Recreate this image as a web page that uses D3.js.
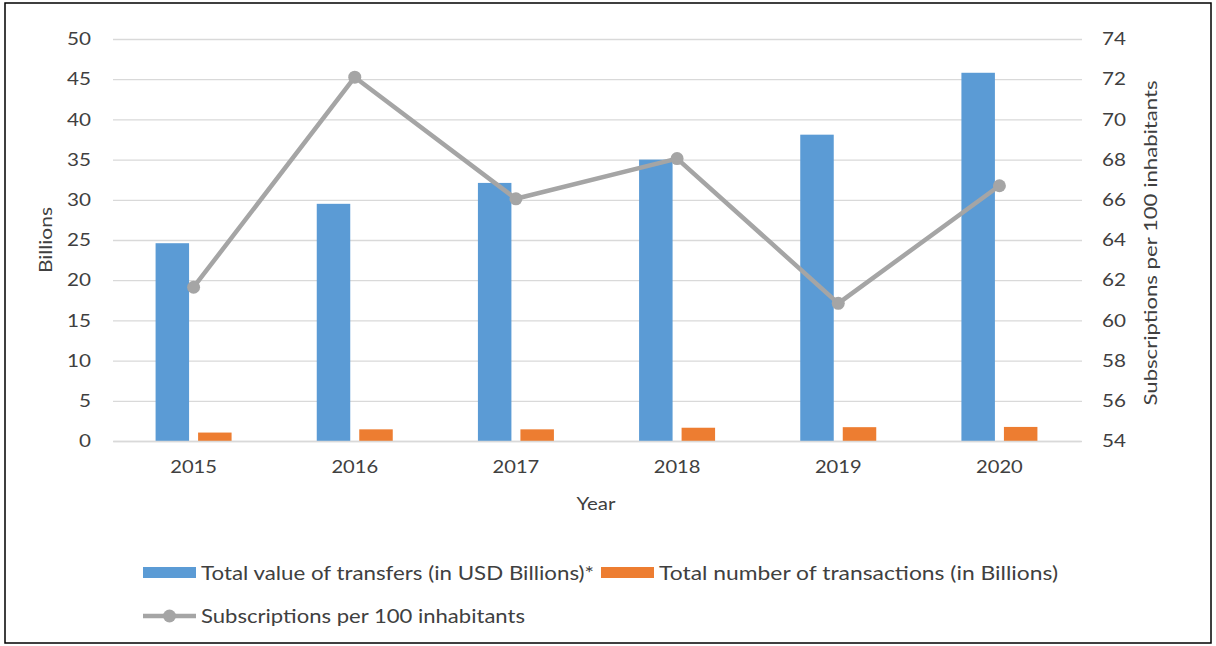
<!DOCTYPE html>
<html>
<head>
<meta charset="utf-8">
<script src="https://cdn.jsdelivr.net/npm/d3@7"></script>
<style>
  html, body { margin: 0; padding: 0; background: #fff; }
  svg { display: block; font-family: Lato, "Open Sans", sans-serif; }
</style>
</head>
<body>
<svg id="chart" width="1216" height="646"></svg>
<script>
const years = ["2015", "2016", "2017", "2018", "2019", "2020"];
const transferValues = [24.6, 29.5, 32.1, 35.0, 38.1, 45.8];
const transactionCounts = [1.05, 1.45, 1.45, 1.65, 1.72, 1.75];
const subscriptions = [61.65, 72.1, 66.05, 68.05, 60.85, 66.7];
const leftTicks = [0, 5, 10, 15, 20, 25, 30, 35, 40, 45, 50];
const rightTicks = [54, 56, 58, 60, 62, 64, 66, 68, 70, 72, 74];
const seriesNames = ["Total value of transfers (in USD Billions)*", "Total number of transactions (in Billions)", "Subscriptions per 100 inhabitants"];
const colors = ["#5b9bd5", "#ed7d31", "#a5a5a5"];

const svg = d3.select("#chart");
const textColor = "#404040";

// stretch text horizontally to mimic the reference's wide glyphs
function stretch(sel, factor) {
  sel.each(function () {
    const w = this.getComputedTextLength();
    d3.select(this).attr("textLength", w * factor).attr("lengthAdjust", "spacingAndGlyphs");
  });
}
function fitTo(sel, width) {
  sel.attr("textLength", width).attr("lengthAdjust", "spacingAndGlyphs");
}

// outer border
svg.append("rect").attr("x", 5).attr("y", 3).attr("width", 1206).attr("height", 640)
  .attr("fill", "none").attr("stroke", "#000").attr("stroke-width", 1.5);

const x = d3.scaleBand().domain(years).range([113, 1080]).padding(0);
const bw = x.bandwidth();
const inner = d3.scaleBand().domain([0, 1]).range([bw / 2 - 38, bw / 2 + 38]).paddingInner(0.212);
const yL = d3.scaleLinear().domain([0, 50]).range([441, 39]);
const yR = d3.scaleLinear().domain([54, 74]).range([441, 39]);

// gridlines
const gridAxis = d3.axisLeft(yL).tickValues(leftTicks).tickSize(-(1082 - 113)).tickFormat("");
const g = svg.append("g").attr("transform", "translate(113,0)").call(gridAxis);
g.select(".domain").remove();
g.selectAll("line").attr("stroke", "#d9d9d9").attr("stroke-width", 1.3);

// left axis labels
const la = svg.append("g").attr("transform", "translate(91,0)")
  .call(d3.axisLeft(yL).tickValues(leftTicks).tickSize(0).tickPadding(0));
la.select(".domain").remove();
la.selectAll("text").attr("fill", textColor).style("font-size", "17.5px").style("font-family", "Lato, sans-serif");
stretch(la.selectAll("text"), 1.18);

// right axis labels
const ra = svg.append("g").attr("transform", "translate(1102,0)")
  .call(d3.axisRight(yR).tickValues(rightTicks).tickSize(0).tickPadding(0));
ra.select(".domain").remove();
ra.selectAll("text").attr("fill", textColor).style("font-size", "17.5px").style("font-family", "Lato, sans-serif");
stretch(ra.selectAll("text"), 1.18);

// bars
const groups = svg.append("g").selectAll("g").data(years).join("g")
  .attr("transform", d => `translate(${x(d)},0)`);
groups.append("rect")
  .attr("x", inner(0)).attr("width", inner.bandwidth())
  .attr("y", (d, i) => yL(transferValues[i])).attr("height", (d, i) => yL(0) - yL(transferValues[i]))
  .attr("fill", colors[0]);
groups.append("rect")
  .attr("x", inner(1)).attr("width", inner.bandwidth())
  .attr("y", (d, i) => yL(transactionCounts[i])).attr("height", (d, i) => yL(0) - yL(transactionCounts[i]))
  .attr("fill", colors[1]);

// x axis
const xa = svg.append("g").attr("transform", "translate(0,441)")
  .call(d3.axisBottom(x).tickSize(0).tickPadding(20));
xa.select(".domain").attr("stroke", "#d9d9d9").attr("stroke-width", 1.3);
xa.selectAll("text").attr("fill", textColor).style("font-size", "17.5px").style("font-family", "Lato, sans-serif");
stretch(xa.selectAll("text"), 1.15);

// line
const cx = (d) => x(d) + bw / 2;
const line = d3.line().x((d, i) => cx(years[i])).y(d => yR(d));
svg.append("path").datum(subscriptions).attr("d", line)
  .attr("fill", "none").attr("stroke", colors[2]).attr("stroke-width", 4.5).attr("stroke-linejoin", "round");
svg.append("g").selectAll("circle").data(subscriptions).join("circle")
  .attr("cx", (d, i) => cx(years[i])).attr("cy", d => yR(d)).attr("r", 6.5).attr("fill", colors[2]);

// axis titles
svg.append("text").attr("x", 596).attr("y", 510).attr("text-anchor", "middle")
  .attr("fill", textColor).style("font-size", "18px").text("Year").call(fitTo, 39);
svg.append("text").attr("transform", "translate(52,240) rotate(-90)").attr("text-anchor", "middle")
  .attr("fill", textColor).style("font-size", "18px").text("Billions").call(fitTo, 66);
svg.append("text").attr("transform", "translate(1157,243) rotate(-90)").attr("text-anchor", "middle")
  .attr("fill", textColor).style("font-size", "18px").text("Subscriptions per 100 inhabitants").call(fitTo, 325);

// legend
const leg = svg.append("g");
leg.append("rect").attr("x", 143).attr("y", 567).attr("width", 53).attr("height", 11).attr("fill", colors[0]);
leg.append("text").attr("x", 201).attr("y", 580).attr("fill", textColor).style("font-size", "19px")
  .text(seriesNames[0]).call(fitTo, 393);
leg.append("rect").attr("x", 601).attr("y", 567).attr("width", 53).attr("height", 11).attr("fill", colors[1]);
leg.append("text").attr("x", 659).attr("y", 580).attr("fill", textColor).style("font-size", "19px")
  .text(seriesNames[1]).call(fitTo, 399);
leg.append("line").attr("x1", 143).attr("x2", 196).attr("y1", 616).attr("y2", 616)
  .attr("stroke", colors[2]).attr("stroke-width", 4.5);
leg.append("circle").attr("cx", 169.5).attr("cy", 616).attr("r", 6.5).attr("fill", colors[2]);
leg.append("text").attr("x", 201).attr("y", 623).attr("fill", textColor).style("font-size", "19px")
  .text(seriesNames[2]).call(fitTo, 324);
</script>
</body>
</html>
